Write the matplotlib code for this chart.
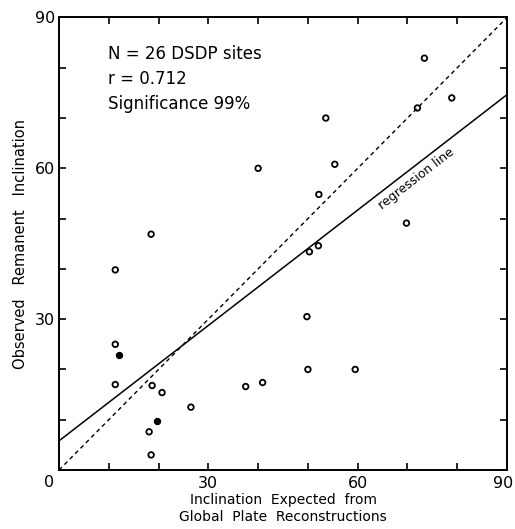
import numpy as np
import matplotlib
matplotlib.use("Agg")
import matplotlib.pyplot as plt
import matplotlib.transforms as mtransforms

# expected vs observed inclination (deg)
expected = [18.5, 11.3, 11.3, 12.0, 11.3, 18.7, 20.7, 26.5, 37.5, 40.9,
            19.7, 18.1, 18.5, 73.4, 78.9, 72.0, 53.6, 55.4, 52.2, 69.8,
            40.0, 52.1, 50.3, 49.8, 50.0, 59.5]
observed = [46.9, 39.8, 25.0, 22.9, 17.0, 16.8, 15.4, 12.5, 16.6, 17.4,
            9.7, 7.6, 3.0, 81.9, 74.0, 72.0, 70.0, 60.8, 54.8, 49.1,
            60.0, 44.6, 43.4, 30.5, 20.0, 20.0]
filled = [3, 10]

reg_intercept = 5.8
reg_slope = 0.765

fig = plt.figure(figsize=(5.15, 5.29), dpi=100)
ax = fig.add_axes([0.1146, 0.1115, 0.8699, 0.8555])

x = np.array(expected)
y = np.array(observed)
mask = np.zeros(len(x), bool)
mask[filled] = True
ax.scatter(x[~mask], y[~mask], s=16, facecolors='none', edgecolors='black', linewidths=1.3, zorder=3)
ax.scatter(x[mask], y[mask], s=16, facecolors='black', edgecolors='black', linewidths=1.3, zorder=3)

xx = np.array([0, 90])
ax.plot(xx, xx, 'k--', lw=1.0, dashes=(3, 2.5))
ax.plot(xx, reg_intercept + reg_slope * xx, 'k-', lw=1.1)

ax.set_xlim(0, 90)
ax.set_ylim(0, 90)
ax.set_xticks(np.arange(0, 91, 10))
ax.set_yticks(np.arange(0, 91, 10))
ax.set_xticklabels(['', '', '', '30', '', '', '60', '', '', '90'])
ax.set_yticklabels(['', '', '', '30', '', '', '60', '', '', '90'])
ax.tick_params(direction='in', length=5, width=1.2, top=True, right=True,
               labelsize=11.5)
ax.tick_params(axis='x', pad=4)
ax.tick_params(axis='y', pad=3)
# keep the last x label inside the picture
lab = ax.get_xticklabels()[-1]
lab.set_transform(lab.get_transform() + mtransforms.ScaledTranslation(-4 / 100, 0, fig.dpi_scale_trans))
for s in ax.spines.values():
    s.set_linewidth(1.4)
ax.text(-0.012, -0.012, '0', transform=ax.transAxes, ha='right', va='top', fontsize=11.5)

ax.set_xlabel('Inclination  Expected  from\nGlobal  Plate  Reconstructions',
              fontsize=10, linespacing=1.2, labelpad=2)
ax.set_ylabel('Observed   Remanent   Inclination', fontsize=10.5, labelpad=5)

ax.text(0.11, 0.92, 'N = 26 DSDP sites', transform=ax.transAxes, fontsize=12, va='center')
ax.text(0.11, 0.865, 'r = 0.712', transform=ax.transAxes, fontsize=12, va='center')
ax.text(0.11, 0.808, 'Significance 99%', transform=ax.transAxes, fontsize=12, va='center')

ax.text(71.7, 57.9, 'regression line', fontsize=9, rotation=37.7,
        rotation_mode='anchor', ha='center', va='center')

fig.savefig('out.png', dpi=100)
